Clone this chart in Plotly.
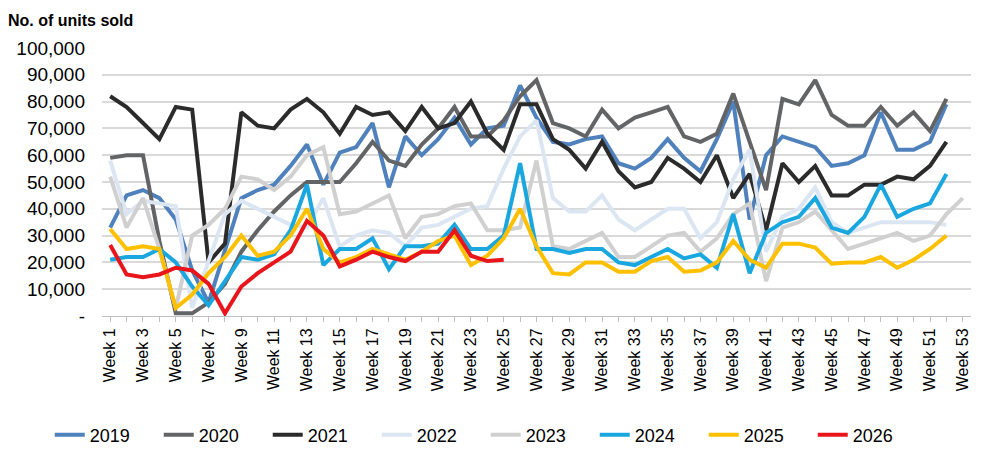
import plotly.graph_objects as go

weeks = ["Week {}".format(i) for i in range(1, 54)]

s2019 = [33, 45, 47, 44, 36, 17, 5, 25, 44, 47, 49, 56, 64, 49, 61, 63, 72, 48, 67, 60,
         66, 74, 64, 70, 71, 86, 74, 65, 64, 66, 67, 57, 55, 59, 66, 59, 54, 66, 80, 36,
         60, 67, 65, 63, 56, 57, 60, 76, 62, 62, 65, 79]
s2020 = [59, 60, 60, 28, 1, 1, 5, 12, 24, 32, 39, 45, 50, 50, 50, 57, 65, 58, 56, 64,
         70, 78, 67, 67, 73, 82, 88, 72, 70, 67, 77, 70, 74, 76, 78, 67, 65, 68, 83, 65,
         47, 81, 79, 88, 75, 71, 71, 78, 71, 76, 69, 81]
s2021 = [82, 78, 72, 66, 78, 77, 20, 27, 76, 71, 70, 77, 81, 76, 68, 78, 75, 76, 69, 78,
         70, 72, 80, 68, 62, 79, 79, 66, 62, 55, 65, 54, 48, 50, 59, 55, 50, 60, 44, 53,
         32, 57, 50, 56, 45, 45, 49, 49, 52, 51, 56, 65]
s2022 = [58, 38, 43, 42, 41, 3, 20, 38, 43, 40, 37, 34, 33, 44, 26, 30, 32, 31, 26, 33,
         34, 37, 40, 41, 55, 67, 73, 44, 39, 39, 45, 36, 32, 36, 40, 40, 29, 35, 51, 62,
         24, 37, 40, 48, 35, 31, 33, 35, 35, 35, 35, 34]
s2023 = [52, 33, 44, 25, 3, 30, 34, 40, 52, 51, 47, 52, 60, 63, 38, 39, 42, 45, 29, 37,
         38, 41, 42, 32, 32, 33, 58, 26, 25, 28, 31, 22, 22, 26, 30, 31, 24, 29, 38, 42,
         13, 33, 35, 39, 32, 25, 27, 29, 31, 28, 30, 38, 44]
s2024 = [21, 22, 22, 25, 20, 11, 4, 13, 22, 21, 23, 32, 49, 19, 25, 25, 29, 17.5, 26, 26,
         27, 34, 25, 25, 30, 57, 25, 25, 23.5, 25, 25, 20, 19, 22, 25, 21.5, 23, 18, 38, 16,
         31, 35, 37, 44, 33, 31, 37, 49, 37, 40, 42, 53]
s2025 = [32.5, 25, 26, 25, 3, 8, 16, 22, 30, 22.5, 24, 30, 40, 25, 20, 22, 25, 23, 21, 24,
         28, 30, 19, 22.5, 29, 40, 26, 16, 15.5, 20, 20, 16.5, 16.5, 20.5, 22, 16.5, 17, 20, 28, 21,
         18, 27, 27, 25.5, 19.5, 20, 20, 22, 18, 21, 25, 30]
s2026 = [26.5, 15.5, 14.5, 15.5, 18, 17, 12, 1, 11, 16, 20, 24, 35.5, 30, 18.5, 21, 24, 22, 20.5, 24,
         24, 32, 22.5, 20.5, 21]

series = [
    ("2019", s2019, "#4f81bd"),
    ("2020", s2020, "#636466"),
    ("2021", s2021, "#2b2b2b"),
    ("2022", s2022, "#dce6f2"),
    ("2023", s2023, "#d0d0d0"),
    ("2024", s2024, "#1aa7e0"),
    ("2025", s2025, "#ffc000"),
    ("2026", s2026, "#e8161b"),
]

fig = go.Figure()
for name, vals, col in series:
    fig.add_trace(go.Scatter(
        x=list(range(len(vals))), y=[v * 1000 for v in vals],
        mode="lines", name=name, line=dict(color=col, width=4),
    ))

ytick_vals = list(range(0, 100001, 10000))
ytick_text = ["-"] + ["{:,}".format(v) for v in ytick_vals[1:]]

fig.update_layout(
    width=981, height=449,
    margin=dict(l=94, r=18, t=40, b=141),
    paper_bgcolor="white", plot_bgcolor="white",
    font=dict(family="Arial, Liberation Sans, sans-serif", size=15, color="#000000"),
    title=dict(text="<b>No. of units sold</b>", x=0.0, xanchor="left",
               y=0.972, yanchor="middle", font=dict(size=16)),
    showlegend=True,
    legend=dict(orientation="h", xref="container", x=0.487, xanchor="center",
                yref="container", y=0.049, yanchor="middle",
                font=dict(size=18), entrywidth=64, entrywidthmode="pixels",
                tracegroupgap=0),
    xaxis=dict(
        range=[-0.5, 52.5],
        automargin=False,
        tickmode="array",
        tickvals=list(range(0, 53, 2)),
        ticktext=weeks[::2],
        tickangle=-90,
        tickfont=dict(size=16),
        showgrid=False,
        showline=True, linecolor="#bfbfbf", linewidth=1,
        ticks="outside", ticklen=5, tickcolor="#bfbfbf",
        minor=dict(tickmode="linear", tick0=1, dtick=2, ticks="outside", ticklen=5, tickcolor="#bfbfbf"),
        zeroline=False,
    ),
    yaxis=dict(
        range=[0, 100000],
        automargin=False,
        tickmode="array",
        tickvals=ytick_vals, ticktext=ytick_text,
        showgrid=True, gridcolor="#d9d9d9", gridwidth=2,
        zeroline=False, ticks="", tickfont=dict(size=19),
        ticklabelstandoff=16,
    ),
)

fig.write_html("out.html")
